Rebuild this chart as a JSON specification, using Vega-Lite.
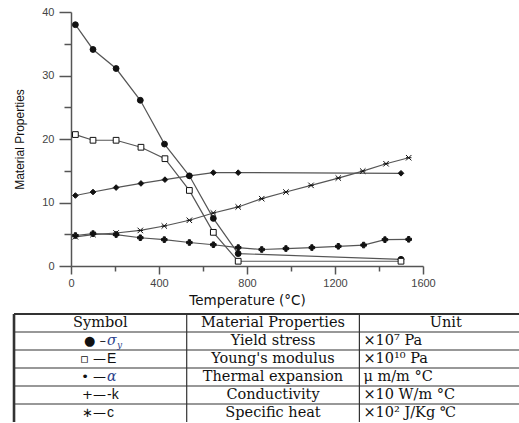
{
  "$schema": "https://vega.github.io/schema/vega-lite/v6.json",
  "padding": {"left": 12, "top": 6, "right": 0, "bottom": 0},
  "background": "white",
  "config": {
    "view": {"stroke": null},
    "axis": {"grid": false}
  },
  "concat": [
    {
      "width": 352,
      "height": 254,
      "data": {
        "values": [
          {"series": "Yield stress", "temp": 20, "value": 38.0},
          {"series": "Yield stress", "temp": 100, "value": 34.1},
          {"series": "Yield stress", "temp": 205, "value": 31.1},
          {"series": "Yield stress", "temp": 315, "value": 26.1},
          {"series": "Yield stress", "temp": 425, "value": 19.2},
          {"series": "Yield stress", "temp": 538, "value": 14.2},
          {"series": "Yield stress", "temp": 647, "value": 7.5},
          {"series": "Yield stress", "temp": 760, "value": 1.95},
          {"series": "Yield stress", "temp": 1500, "value": 1.05},
          {"series": "Young's modulus", "temp": 20, "value": 20.7},
          {"series": "Young's modulus", "temp": 100, "value": 19.8},
          {"series": "Young's modulus", "temp": 205, "value": 19.8},
          {"series": "Young's modulus", "temp": 318, "value": 18.7},
          {"series": "Young's modulus", "temp": 427, "value": 16.9},
          {"series": "Young's modulus", "temp": 538, "value": 11.9},
          {"series": "Young's modulus", "temp": 647, "value": 5.3},
          {"series": "Young's modulus", "temp": 760, "value": 0.75},
          {"series": "Young's modulus", "temp": 1500, "value": 0.75},
          {"series": "Thermal expansion", "temp": 20, "value": 11.1},
          {"series": "Thermal expansion", "temp": 100, "value": 11.65},
          {"series": "Thermal expansion", "temp": 205, "value": 12.35},
          {"series": "Thermal expansion", "temp": 318, "value": 13.0},
          {"series": "Thermal expansion", "temp": 427, "value": 13.6},
          {"series": "Thermal expansion", "temp": 538, "value": 14.2},
          {"series": "Thermal expansion", "temp": 647, "value": 14.7},
          {"series": "Thermal expansion", "temp": 760, "value": 14.7},
          {"series": "Thermal expansion", "temp": 1500, "value": 14.6},
          {"series": "Conductivity", "temp": 20, "value": 4.8},
          {"series": "Conductivity", "temp": 100, "value": 5.1},
          {"series": "Conductivity", "temp": 205, "value": 4.95},
          {"series": "Conductivity", "temp": 315, "value": 4.45},
          {"series": "Conductivity", "temp": 424, "value": 4.15},
          {"series": "Conductivity", "temp": 538, "value": 3.7},
          {"series": "Conductivity", "temp": 647, "value": 3.35},
          {"series": "Conductivity", "temp": 760, "value": 2.9},
          {"series": "Conductivity", "temp": 867, "value": 2.6},
          {"series": "Conductivity", "temp": 977, "value": 2.75},
          {"series": "Conductivity", "temp": 1095, "value": 2.9},
          {"series": "Conductivity", "temp": 1215, "value": 3.1},
          {"series": "Conductivity", "temp": 1330, "value": 3.3},
          {"series": "Conductivity", "temp": 1427, "value": 4.15},
          {"series": "Conductivity", "temp": 1535, "value": 4.2},
          {"series": "Specific heat", "temp": 20, "value": 4.6},
          {"series": "Specific heat", "temp": 100, "value": 4.95},
          {"series": "Specific heat", "temp": 205, "value": 5.2},
          {"series": "Specific heat", "temp": 315, "value": 5.6},
          {"series": "Specific heat", "temp": 424, "value": 6.3},
          {"series": "Specific heat", "temp": 538, "value": 7.2},
          {"series": "Specific heat", "temp": 647, "value": 8.35},
          {"series": "Specific heat", "temp": 760, "value": 9.3},
          {"series": "Specific heat", "temp": 867, "value": 10.6},
          {"series": "Specific heat", "temp": 977, "value": 11.65},
          {"series": "Specific heat", "temp": 1091, "value": 12.7},
          {"series": "Specific heat", "temp": 1215, "value": 13.85},
          {"series": "Specific heat", "temp": 1326, "value": 14.95},
          {"series": "Specific heat", "temp": 1432, "value": 16.1},
          {"series": "Specific heat", "temp": 1535, "value": 17.05}
        ]
      },
      "encoding": {
        "x": {
          "field": "temp", "type": "quantitative",
          "scale": {"domain": [0, 1600], "nice": false, "zero": false},
          "axis": {
            "values": [0, 200, 400, 600, 800, 1000, 1200, 1400, 1600],
            "labelExpr": "datum.value % 400 === 0 ? datum.label : ''",
            "tickSize": {"condition": {"test": "datum.value % 400 === 0", "value": 8}, "value": 5},
            "format": "d",
            "labelFont": "Liberation Sans", "labelFontSize": 11, "labelColor": "#444",
            "labelPadding": 3, "labelFlush": false, "labelOverlap": false,
            "domainColor": "#555", "domainWidth": 1.5, "tickColor": "#555", "tickWidth": 1.5,
            "title": "Temperature (°C)", "titleFont": "DejaVu Sans", "titleFontSize": 13.5,
            "titleFontWeight": "normal", "titleColor": "#111", "titlePadding": 5
          }
        },
        "y": {
          "field": "value", "type": "quantitative",
          "scale": {"domain": [0, 40], "nice": false},
          "axis": {
            "values": [0, 5, 10, 15, 20, 25, 30, 35, 40],
            "labelExpr": "datum.value % 10 === 0 ? datum.label : ''",
            "tickSize": {"condition": {"test": "datum.value % 10 === 0", "value": 12}, "value": 7},
            "labelFont": "Liberation Sans", "labelFontSize": 11, "labelColor": "#444",
            "labelPadding": 5, "labelFlush": false, "labelOverlap": false,
            "domainColor": "#555", "domainWidth": 1.5, "tickColor": "#555", "tickWidth": 1.5,
            "title": "Material Properties", "titleFont": "Liberation Sans", "titleFontSize": 12,
            "titleFontWeight": "normal", "titleColor": "#111", "titlePadding": 15
          }
        }
      },
      "layer": [
        {
          "mark": {"type": "line", "color": "#555", "strokeWidth": 1.2},
          "encoding": {"detail": {"field": "series"}}
        },
        {
          "mark": {"type": "point", "opacity": 1, "stroke": "#111", "strokeWidth": 1},
          "encoding": {
            "shape": {
              "field": "series", "legend": null,
              "scale": {
                "domain": ["Yield stress", "Young's modulus", "Thermal expansion", "Conductivity", "Specific heat"],
                "range": ["circle", "square", "diamond", "cross", "M-1,-1L1,1M-1,1L1,-1M-1,0L1,0"]
              }
            },
            "fill": {
              "field": "series", "legend": null,
              "scale": {
                "domain": ["Yield stress", "Young's modulus", "Thermal expansion", "Conductivity", "Specific heat"],
                "range": ["#111", "#ffffff", "#111", "#111", "#111"]
              }
            },
            "size": {
              "field": "series", "legend": null, "type": "nominal",
              "scale": {
                "domain": ["Yield stress", "Young's modulus", "Thermal expansion", "Conductivity", "Specific heat"],
                "range": [34, 30, 24, 34, 45]
              }
            }
          }
        }
      ]
    },
    {
      "width": 449,
      "height": 108,
      "data": {
        "values": [
          {"row": 0, "mk": "Symbol", "greek": "", "latin": "", "sub": "", "prop": "Material Properties", "unit": "Unit"},
          {"row": 1, "mk": "● –", "greek": "σ", "latin": "", "sub": "y", "prop": "Yield stress", "unit": "×10⁷ Pa"},
          {"row": 2, "mk": "▫  —", "greek": "", "latin": "E", "sub": "", "prop": "Young's modulus", "unit": "×10¹⁰ Pa"},
          {"row": 3, "mk": "•  —", "greek": "α", "latin": "", "sub": "", "prop": "Thermal expansion", "unit": "μ  m/m  °C"},
          {"row": 4, "mk": "+—", "greek": "", "latin": "-k", "sub": "", "prop": "Conductivity", "unit": "×10 W/m  °C"},
          {"row": 5, "mk": "∗—", "greek": "", "latin": "c", "sub": "", "prop": "Specific heat", "unit": "×10² J/Kg  ℃"}
        ]
      },
      "layer": [
        {
          "mark": {"type": "rule", "color": "#333"},
          "encoding": {
            "y": {"field": "row", "type": "ordinal", "bandPosition": 0,
                  "scale": {"domain": [0, 1, 2, 3, 4, 5], "paddingInner": 0, "paddingOuter": 0}, "axis": null},
            "x": {"datum": 0, "type": "quantitative", "scale": {"domain": [0.33, 2.93], "nice": false, "zero": false}, "axis": null},
            "x2": {"datum": 2.93},
            "strokeWidth": {"condition": {"test": "datum.row === 0", "value": 2.2}, "value": 1.2}
          }
        },
        {
          "data": {"values": [{"c": 0}, {"c": 1}, {"c": 2}]},
          "mark": {"type": "rule", "color": "#333"},
          "encoding": {
            "x": {"field": "c", "type": "quantitative", "scale": {"domain": [0.33, 2.93], "nice": false, "zero": false}, "axis": null},
            "strokeWidth": {"condition": {"test": "datum.c === 0", "value": 2.6}, "value": 1.2}
          }
        },
        {
          "mark": {"type": "text", "font": "DejaVu Serif", "fontSize": 14.5, "color": "#111", "align": "center", "baseline": "middle", "dx": 86.3},
          "encoding": {
            "x": {"datum": 1, "type": "quantitative", "scale": {"domain": [0.33, 2.93], "nice": false, "zero": false}, "axis": null},
            "y": {"field": "row", "type": "ordinal", "bandPosition": 0.5, "axis": null},
            "text": {"field": "prop"}
          }
        },
        {
          "transform": [{"filter": "datum.row === 0"}],
          "mark": {"type": "text", "font": "DejaVu Serif", "fontSize": 14.5, "color": "#111", "align": "center", "baseline": "middle", "dx": 86.3},
          "encoding": {
            "x": {"datum": 0, "type": "quantitative", "scale": {"domain": [0.33, 2.93], "nice": false, "zero": false}, "axis": null},
            "y": {"field": "row", "type": "ordinal", "bandPosition": 0.5, "axis": null},
            "text": {"field": "mk"}
          }
        },
        {
          "transform": [{"filter": "datum.row === 0"}],
          "mark": {"type": "text", "font": "DejaVu Serif", "fontSize": 14.5, "color": "#111", "align": "center", "baseline": "middle", "dx": 86.3},
          "encoding": {
            "x": {"datum": 2, "type": "quantitative", "scale": {"domain": [0.33, 2.93], "nice": false, "zero": false}, "axis": null},
            "y": {"field": "row", "type": "ordinal", "bandPosition": 0.5, "axis": null},
            "text": {"field": "unit"}
          }
        },
        {
          "transform": [{"filter": "datum.row > 0"}],
          "mark": {"type": "text", "font": "DejaVu Sans", "fontSize": 13, "color": "#111", "align": "right", "baseline": "middle", "dx": 92},
          "encoding": {
            "x": {"datum": 0, "type": "quantitative", "scale": {"domain": [0.33, 2.93], "nice": false, "zero": false}, "axis": null},
            "y": {"field": "row", "type": "ordinal", "bandPosition": 0.5, "axis": null},
            "text": {"field": "mk"}
          }
        },
        {
          "transform": [{"filter": "datum.row > 0"}],
          "mark": {"type": "text", "font": "DejaVu Serif", "fontSize": 14, "fontStyle": "italic", "color": "#2b3f8c", "align": "left", "baseline": "middle", "dx": 93},
          "encoding": {
            "x": {"datum": 0, "type": "quantitative", "scale": {"domain": [0.33, 2.93], "nice": false, "zero": false}, "axis": null},
            "y": {"field": "row", "type": "ordinal", "bandPosition": 0.5, "axis": null},
            "text": {"field": "greek"}
          }
        },
        {
          "transform": [{"filter": "datum.row > 0"}],
          "mark": {"type": "text", "font": "DejaVu Serif", "fontSize": 9, "fontStyle": "italic", "color": "#2b3f8c", "align": "left", "baseline": "middle", "dx": 103, "dy": 4},
          "encoding": {
            "x": {"datum": 0, "type": "quantitative", "scale": {"domain": [0.33, 2.93], "nice": false, "zero": false}, "axis": null},
            "y": {"field": "row", "type": "ordinal", "bandPosition": 0.5, "axis": null},
            "text": {"field": "sub"}
          }
        },
        {
          "transform": [{"filter": "datum.row > 0"}],
          "mark": {"type": "text", "font": "Liberation Sans", "fontSize": 14, "color": "#111", "align": "left", "baseline": "middle", "dx": 93},
          "encoding": {
            "x": {"datum": 0, "type": "quantitative", "scale": {"domain": [0.33, 2.93], "nice": false, "zero": false}, "axis": null},
            "y": {"field": "row", "type": "ordinal", "bandPosition": 0.5, "axis": null},
            "text": {"field": "latin"}
          }
        },
        {
          "transform": [{"filter": "datum.row > 0"}],
          "mark": {"type": "text", "font": "DejaVu Serif", "fontSize": 14.5, "color": "#111", "align": "left", "baseline": "middle", "dx": 4},
          "encoding": {
            "x": {"datum": 2, "type": "quantitative", "scale": {"domain": [0.33, 2.93], "nice": false, "zero": false}, "axis": null},
            "y": {"field": "row", "type": "ordinal", "bandPosition": 0.5, "axis": null},
            "text": {"field": "unit"}
          }
        }
      ]
    }
  ],
  "columns": 1,
  "align": "none",
  "spacing": 5
}
